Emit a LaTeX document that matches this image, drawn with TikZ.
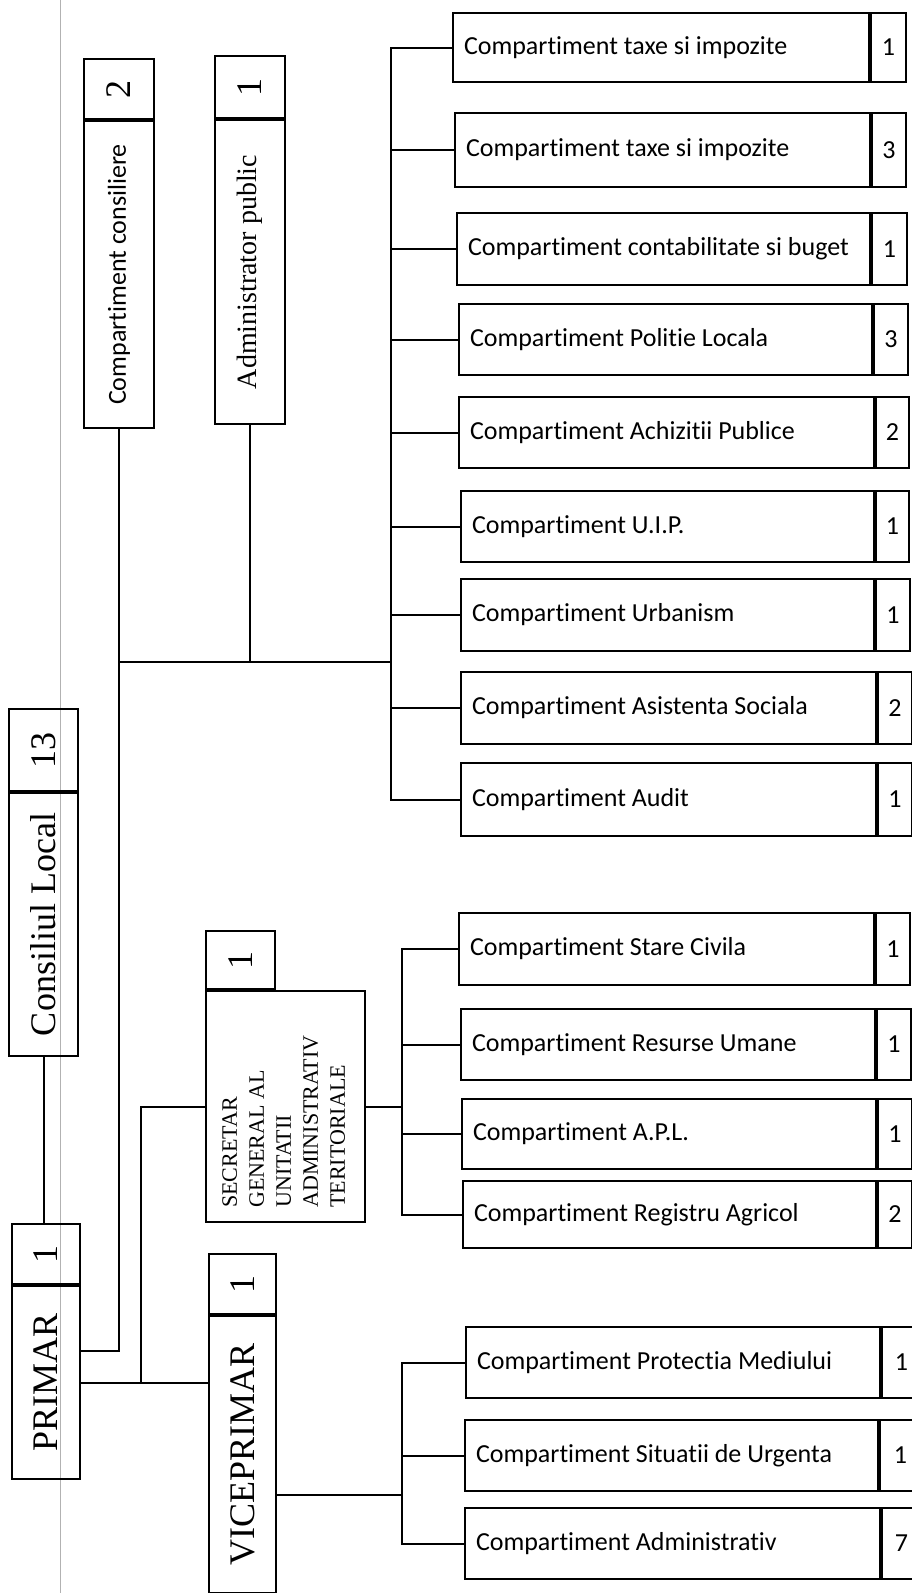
\documentclass[tikz,border=0pt]{standalone}
\usepackage{graphicx}
\usepackage{fontspec}
\setmainfont{Liberation Serif}
\setsansfont{Carlito}[Ligatures=NoCommon]

\newcommand{\deptfont}{\sffamily\fontsize{26}{30}\selectfont}
\newcommand{\chieffont}{\rmfamily\fontsize{36}{40}\selectfont}
\newcommand{\adminfont}{\rmfamily\fontsize{28}{32}\selectfont}
\newcommand{\secfont}{\rmfamily\fontsize{22}{27}\selectfont}
\newcommand{\up}[1]{\rotatebox{90}{#1}}

\tikzset{
  cell/.style={draw, line width=2pt, inner sep=0pt, anchor=north west},
  dept/.style={cell, align=flush left, inner xsep=11pt, font=\deptfont},
  cnt/.style={cell, font=\deptfont},
  chief/.style={cell, font=\chieffont},
  link/.style={line width=2pt},
}

\begin{document}
\begin{tikzpicture}[x=1pt,y=-1pt]
                \useasboundingbox (0,0) rectangle (911,1593);
                \draw[gray!60, line width=0.7pt] (60,0)--(60,1593);
                % left column
                \node[chief, minimum width=69pt, minimum height=82pt] (cln) at (8,708) {\up{13}};
                \node[chief, minimum width=69pt, minimum height=263pt] (cl) at (cln.south west) {\up{Consiliul Local}};
                \node[chief, minimum width=68pt, minimum height=60pt] (primn) at (11,1223) {\up{1}};
                \node[chief, minimum width=68pt, minimum height=193pt] (prim) at (primn.south west) {\up{PRIMAR}};
                \node[chief, minimum width=70pt, minimum height=60pt] (consn) at (83,58) {\up{2}};
                \node[chief, minimum width=70pt, minimum height=307pt, font=\deptfont] (cons) at (consn.south west) {\up{Compartiment consiliere}};
                \node[chief, minimum width=70pt, minimum height=62pt] (adminn) at (214,55) {\up{1}};
                \node[chief, minimum width=70pt, minimum height=304pt, font=\adminfont] (admin) at (adminn.south west) {\up{Administrator public}};
                \node[chief, minimum width=69pt, minimum height=58pt] (secn) at (205,930) {\up{1}};
                \node[chief, minimum width=159pt, minimum height=231pt, font=\secfont] (sec) at (secn.south west) {\up{\begin{tabular}{@{}l@{}}SECRETAR\\GENERAL AL\\UNITATII\\ADMINISTRATIV\\TERITORIALE\end{tabular}\hspace{30pt}}};
                \node[chief, minimum width=67pt, minimum height=60pt] (vicen) at (208,1253) {\up{1}};
                \node[chief, minimum width=67pt, minimum height=277pt] (vice) at (vicen.south west) {\up{VICEPRIMAR}};
                % first group
                \node[dept, text width=394pt, minimum height=69pt] (d1) at (452,12) {Compartiment taxe si impozite};
                \node[cnt, minimum width=35pt, minimum height=69pt] (n1) at (d1.north east) {1};
                \node[dept, text width=393pt, minimum height=74pt] (d2) at (454,112) {Compartiment taxe si impozite};
                \node[cnt, minimum width=34pt, minimum height=74pt] (n2) at (d2.north east) {3};
                \node[dept, text width=391pt, minimum height=72pt] (d3) at (456,212) {Compartiment contabilitate si buget};
                \node[cnt, minimum width=35pt, minimum height=72pt] (n3) at (d3.north east) {1};
                \node[dept, text width=391pt, minimum height=71pt] (d4) at (458,303) {Compartiment Politie Locala};
                \node[cnt, minimum width=34pt, minimum height=71pt] (n4) at (d4.north east) {3};
                \node[dept, text width=393pt, minimum height=71pt] (d5) at (458,396) {Compartiment Achizitii Publice};
                \node[cnt, minimum width=33pt, minimum height=71pt] (n5) at (d5.north east) {2};
                \node[dept, text width=391pt, minimum height=71pt] (d6) at (460,490) {Compartiment U.I.P.};
                \node[cnt, minimum width=33pt, minimum height=71pt] (n6) at (d6.north east) {1};
                \node[dept, text width=391pt, minimum height=72pt] (d7) at (460,578) {Compartiment Urbanism};
                \node[cnt, minimum width=34pt, minimum height=72pt] (n7) at (d7.north east) {1};
                \node[dept, text width=393pt, minimum height=72pt] (d8) at (460,671) {Compartiment Asistenta Sociala};
                \node[cnt, minimum width=34pt, minimum height=72pt] (n8) at (d8.north east) {2};
                \node[dept, text width=393pt, minimum height=73pt] (d9) at (460,762) {Compartiment Audit};
                \node[cnt, minimum width=34pt, minimum height=73pt] (n9) at (d9.north east) {1};
                % second group
                \node[dept, text width=393pt, minimum height=72pt] (s1) at (458,912) {Compartiment Stare Civila};
                \node[cnt, minimum width=34pt, minimum height=72pt] (m1) at (s1.north east) {1};
                \node[dept, text width=392pt, minimum height=71pt] (s2) at (460,1008) {Compartiment Resurse Umane};
                \node[cnt, minimum width=34pt, minimum height=71pt] (m2) at (s2.north east) {1};
                \node[dept, text width=392pt, minimum height=70pt] (s3) at (461,1098) {Compartiment A.P.L.};
                \node[cnt, minimum width=34pt, minimum height=70pt] (m3) at (s3.north east) {1};
                \node[dept, text width=391pt, minimum height=67pt] (s4) at (462,1180) {Compartiment Registru Agricol};
                \node[cnt, minimum width=34pt, minimum height=67pt] (m4) at (s4.north east) {2};
                % third group
                \node[dept, text width=392pt, minimum height=71pt] (v1) at (465,1326) {Compartiment Protectia Mediului};
                \node[cnt, minimum width=39pt, minimum height=71pt] (w1) at (v1.north east) {1};
                \node[dept, text width=391pt, minimum height=71pt] (v2) at (464,1419) {Compartiment Situatii de Urgenta};
                \node[cnt, minimum width=41pt, minimum height=71pt] (w2) at (v2.north east) {1};
                \node[dept, text width=393pt, minimum height=71pt] (v3) at (464,1507) {Compartiment Administrativ};
                \node[cnt, minimum width=39pt, minimum height=71pt] (w3) at (v3.north east) {7};
                % connectors
                \coordinate (bus1) at (391,662);
                \coordinate (bus2) at (402,0);
                \coordinate (bus3) at (402,0);
                \coordinate (tap) at ([xshift=60pt]prim.east);
                \draw[link] (cl.south)--(cl.south |- primn.north);
                \draw[link] (cons.south) |- ([yshift=32pt]prim.east);
                \draw[link] (cons.south |- bus1)--(bus1);
                \draw[link] (admin.south)--(admin.south |- bus1);
                \draw[link] (prim.east)--(prim.east -| vice.west);
                \draw[link] (tap) |- (sec.west);
                \draw[link] (d1.west) -| (bus1) |- (d9.west);
                \draw[link] (d2.west)--(d2.west -| bus1);
                \draw[link] (d3.west)--(d3.west -| bus1);
                \draw[link] (d4.west)--(d4.west -| bus1);
                \draw[link] (d5.west)--(d5.west -| bus1);
                \draw[link] (d6.west)--(d6.west -| bus1);
                \draw[link] (d7.west)--(d7.west -| bus1);
                \draw[link] (d8.west)--(d8.west -| bus1);
                \draw[link] (sec.east)--(sec.east -| bus2);
                \draw[link] (s1.west) -| (bus2 |- s4.west)--(s4.west);
                \draw[link] (s2.west)--(s2.west -| bus2);
                \draw[link] (s3.west)--(s3.west -| bus2);
                \draw[link] ([yshift=-40pt]vice.east)--([yshift=-40pt]vice.east -| bus3);
                \draw[link] (v1.west) -| (bus3 |- v3.west)--(v3.west);
                \draw[link] (v2.west)--(v2.west -| bus3);
\end{tikzpicture}
\end{document}
